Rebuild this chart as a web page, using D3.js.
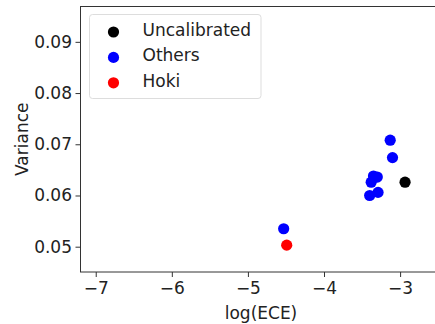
<!DOCTYPE html>
<html><head><meta charset="utf-8">
<script src="https://cdn.jsdelivr.net/npm/d3@7"></script>
<style>body{margin:0;background:#fff}svg{display:block}text{font-family:"DejaVu Sans",sans-serif}</style>
</head><body><svg id="c" width="435" height="324"></svg>
<script>
const groups = ["Uncalibrated", "Others", "Hoki"];
const colors = ["#000000", "#0000ff", "#ff0000"];
const uncalX = [-2.935];
const uncalY = [0.0626];
const othersX = [-3.13, -3.10, -3.30, -3.35, -3.38, -3.29, -3.40, -4.53];
const othersY = [0.0708, 0.0674, 0.0636, 0.0638, 0.0626, 0.0606, 0.0600, 0.0535];
const hokiX = [-4.49];
const hokiY = [0.0503];
const xTicks = [-7, -6, -5, -4, -3];
const yTicks = [0.05, 0.06, 0.07, 0.08, 0.09];

const FS = 17;
const svg = d3.select("#c");
const L = 80.5, T = 6.5, B = 272, R = 445;
const x = d3.scaleLinear().domain([-7.2, -2.41]).range([L, R]);
const y = d3.scaleLinear().domain([0.04506, 0.0969]).range([B, T]);

const series = [[uncalX, uncalY], [othersX, othersY], [hokiX, hokiY]];
const pts = [];
series.forEach((s, g) => s[0].forEach((v, i) => pts.push({x: v, y: s[1][i], g})));

svg.append("g").selectAll("circle").data(pts).join("circle")
  .attr("cx", d => x(d.x)).attr("cy", d => y(d.y)).attr("r", 5.6)
  .attr("fill", d => colors[d.g]);

svg.append("rect").attr("x", L).attr("y", T).attr("width", R - L).attr("height", B - T)
  .attr("fill", "none").attr("stroke", "#333").attr("stroke-width", 1);

const xa = svg.append("g").attr("transform", `translate(0,${B})`)
  .call(d3.axisBottom(x).tickValues(xTicks).tickSize(5).tickPadding(5).tickFormat(d => "\u2212" + Math.abs(d)));
const ya = svg.append("g").attr("transform", `translate(${L},0)`)
  .call(d3.axisLeft(y).tickValues(yTicks).tickSize(5).tickPadding(3.5).tickFormat(d3.format(".2f")));
[xa, ya].forEach(a => {
  a.select(".domain").remove();
  a.selectAll("line").attr("stroke", "#333");
  a.selectAll("text").attr("font-size", FS).attr("fill", "#222").style("font-family", "DejaVu Sans");
});

svg.append("text").attr("x", 261).attr("y", 319).attr("text-anchor", "middle")
  .attr("font-size", FS).attr("fill", "#222").text("log(ECE)");
svg.append("text").attr("transform", `translate(28,${(T + B) / 2}) rotate(-90)`).attr("text-anchor", "middle")
  .attr("font-size", FS).attr("fill", "#222").text("Variance");

const lg = svg.append("g");
lg.append("rect").attr("x", 89.5).attr("y", 14.5).attr("width", 171.5).attr("height", 84).attr("rx", 3)
  .attr("fill", "#fff").attr("fill-opacity", 0.8).attr("stroke", "#ddd");
groups.forEach((g, i) => {
  const cy = 32 + i * 25.4;
  lg.append("circle").attr("cx", 113.5).attr("cy", cy).attr("r", 5.6).attr("fill", colors[i]);
  lg.append("text").attr("x", 142.5).attr("y", cy + 4).attr("font-size", FS).attr("fill", "#222").text(g);
});
</script></body></html>
